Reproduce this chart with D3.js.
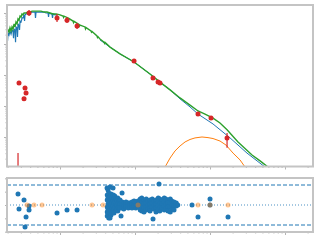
<!DOCTYPE html>
<html>
<head>
<meta charset="utf-8">
<title>SED fit</title>
<script src="https://d3js.org/d3.v7.min.js"></script>
<style>
  body { margin: 0; background: #fff; }
  .spine { fill: none; stroke: #c4c4c4; stroke-width: 2; }
  .axis path { stroke: none; }
  .axis line { stroke: #b4b4b4; }
</style>
</head>
<body>
<div id="chart"></div>
<script>
var width = 320;
var height = 240;

// all values are log10: wavelength (micron) and flux (erg/s/cm2)
// photometry with error bar ends
var photWave = [-1.413, -1.04, -0.907, -0.773, -0.013, 0.24, 0.307, 0.333, 0.84, 1.013, 1.227, -1.547, -1.467, -1.453, -1.48, -1.56];
var photFlux = [-10.00, -10.16, -10.23, -10.42, -11.55, -12.10, -12.23, -12.26, -13.26, -13.39, -14.03, -12.26, -12.42, -12.58, -12.77, -15.60];
var photLo   = [-10.10, -10.29, -10.32, -10.52, -11.55, -12.10, -12.23, -12.26, -13.26, -13.39, -14.35, -12.26, -12.42, -12.58, -12.77, -16.00];
var photHi   = [-9.90, -10.03, -10.13, -10.32, -11.55, -12.10, -12.23, -12.26, -13.26, -13.39, -13.87, -12.26, -12.42, -12.58, -12.77, -14.52];

// observed UV spectrum
var specWave = [-1.707, -1.7, -1.693, -1.68, -1.667, -1.653, -1.64, -1.627, -1.62, -1.613, -1.6, -1.593, -1.587, -1.573, -1.567, -1.56, -1.547, -1.54, -1.533, -1.52, -1.513, -1.507, -1.493, -1.48, -1.473, -1.467, -1.453, -1.427, -1.4, -1.373, -1.347, -1.333, -1.327, -1.32, -1.293, -1.267, -1.24, -1.213, -1.187, -1.16, -1.153, -1.147, -1.12, -1.107, -1.1, -1.093, -1.067, -1.04];
var specFlux = [-10.74, -10.90, -10.65, -10.71, -10.58, -10.68, -10.55, -10.58, -10.81, -10.52, -10.55, -10.94, -10.45, -10.48, -10.77, -10.35, -10.42, -10.55, -10.26, -10.29, -10.23, -10.16, -10.16, -10.06, -10.26, -10.06, -10.03, -10.00, -10.00, -9.97, -9.97, -9.97, -10.16, -9.97, -9.97, -9.97, -9.97, -9.97, -10.00, -10.00, -10.13, -10.00, -10.03, -10.03, -10.16, -10.03, -10.06, -10.06];

// total model (star + disk)
var totalWave = [-1.707, -1.693, -1.68, -1.667, -1.653, -1.64, -1.627, -1.613, -1.6, -1.587, -1.573, -1.56, -1.547, -1.533, -1.52, -1.507, -1.493, -1.48, -1.453, -1.427, -1.4, -1.373, -1.333, -1.293, -1.253, -1.213, -1.173, -1.133, -1.093, -1.053, -1.0, -0.96, -0.953, -0.947, -0.893, -0.887, -0.88, -0.827, -0.82, -0.813, -0.747, -0.74, -0.733, -0.667, -0.66, -0.653, -0.587, -0.58, -0.573, -0.507, -0.5, -0.493, -0.467, -0.413, -0.407, -0.4, -0.333, -0.2, -0.013, 0.2, 0.333, 0.467, 0.6, 0.733, 0.84, 0.933, 1.04, 1.133, 1.227, 1.373, 1.56, 1.667, 1.773, 1.933];
var totalFlux = [-10.68, -10.55, -10.61, -10.48, -10.58, -10.45, -10.52, -10.35, -10.45, -10.29, -10.35, -10.19, -10.23, -10.10, -10.13, -10.03, -10.06, -10.00, -10.00, -9.97, -9.97, -9.94, -9.94, -9.94, -9.94, -9.97, -9.97, -10.00, -10.03, -10.03, -10.06, -10.10, -10.14, -10.10, -10.16, -10.21, -10.18, -10.26, -10.31, -10.27, -10.37, -10.42, -10.39, -10.45, -10.51, -10.47, -10.58, -10.62, -10.60, -10.74, -10.79, -10.77, -10.84, -10.94, -10.98, -10.95, -11.10, -11.32, -11.58, -11.97, -12.23, -12.48, -12.74, -12.97, -13.16, -13.26, -13.39, -13.55, -13.77, -14.16, -14.58, -14.77, -14.97, -15.29];

// stellar photosphere
var starWave = [-0.467, -0.333, -0.2, -0.013, 0.2, 0.333, 0.467, 0.6, 0.733, 0.84, 1.04, 1.267, 1.493, 1.733, 1.933];
var starFlux = [-10.87, -11.10, -11.32, -11.58, -11.97, -12.23, -12.48, -12.77, -13.03, -13.26, -13.58, -14.03, -14.52, -14.97, -15.39];

// disk / dust excess
var dustWave = [0.333, 0.4, 0.467, 0.533, 0.6, 0.667, 0.733, 0.8, 0.893, 0.973, 1.04, 1.133, 1.213, 1.307, 1.4, 1.467, 1.533];
var dustFlux = [-15.29, -14.97, -14.68, -14.45, -14.29, -14.16, -14.08, -14.03, -14.00, -14.02, -14.05, -14.13, -14.26, -14.52, -14.74, -14.97, -15.23];

// residuals of photometry (sigma)
var resWave = [-1.56, -1.48, -1.547, -1.413, -1.413, -1.453, -1.467, -1.04, -0.907, -0.773, -0.373, -0.333, -0.293, -0.173, -0.333, -0.187, -0.013, 0.32, 0.24, 0.76, 1.0, 1.0, 0.84, 1.24, 0.04];
var resVal  = [1.65, 0.75, -0.6, -0.15, -0.75, -1.8, -3.3, -1.2, -0.75, -0.75, 2.55, 2.7, 2.55, 1.8, -1.95, -1.65, 0.6, 3.15, -2.1, 0, 0.9, 0, -1.8, -1.8, 0];

// residuals of the spectrum, one column per wavelength bin
var specResWave = [-0.37, -0.36, -0.35, -0.33, -0.32, -0.31, -0.29, -0.28, -0.27, -0.25, -0.24, -0.23, -0.21, -0.2, -0.17, -0.15, -0.12, -0.09, -0.07, -0.04, -0.01, 0.01, 0.04, 0.07, 0.09, 0.12, 0.15, 0.17, 0.2, 0.23, 0.25, 0.28, 0.31, 0.33, 0.36, 0.39, 0.41, 0.44, 0.47, 0.49, 0.52, 0.55, 0.57];
var specResVal = [
  [1.5, 0.75, -0.3, -1.05, -1.65], [2.25, 1.05, 0.15, -0.75, -1.35], [1.8, 0.6, -0.15, -1.95], [1.35, 0.3, -0.6, -1.2],
  [1.65, 0.9, 0, -0.9, -1.5], [1.2, 0.45, -0.45, -1.05], [1.5, 0.75, -0.15, -0.75], [1.05, 0.3, -0.6, -1.2],
  [1.35, 0.6, -0.3], [0.9, 0.15, -0.75], [0.75, 0, -0.6], [1.05, 0.3, -0.3, -0.9], [0.6, 0, -0.45], [0.75, 0.15, -0.45],
  [0.45, 0, -0.45], [0.3, -0.15, -0.6], [0.45, 0, -0.3], [0.3, -0.15, -0.45], [0.3, 0, -0.3], [0.45, 0, -0.45],
  [0.3, -0.15], [0.45, 0, -0.45], [0.6, 0.15, -0.3], [0.9, 0.3, -0.3, -0.75], [1.05, 0.45, -0.15, -0.9],
  [0.75, 0.15, -0.45, -1.05], [0.9, 0.3, -0.3, -0.75], [0.6, 0, -0.6], [0.75, 0.15, -0.45, -0.9], [0.9, 0.3, -0.3],
  [0.6, 0, -0.6], [0.75, 0.15, -0.45, -1.05], [1.05, 0.45, -0.15, -0.75], [0.9, 0.3, -0.3, -0.9], [0.75, 0.15, -0.45],
  [1.05, 0.45, -0.15, -0.75], [0.9, 0.15, -0.45], [0.75, 0.3, -0.3, -0.9], [0.9, 0.3, -0.3, -1.05], [0.6, 0, -0.6],
  [0.45, -0.15, -0.75], [0.3, -0.15], [0]
];

// points left out of the fit (drawn on the zero line)
var skipWave = [-1.44, -1.347, -1.24, -0.573, -0.427, 0.04, 0.84, 1.0, 1.24];

var xDecades = [-2, -1, 0, 1, 2];
var yDecades = [-15, -14, -13, -12, -11, -10];
var resTicks = [-4, -2, 0, 2, 4];
var resLimit = 3;

var svg = d3.select('#chart')
  .append('svg')
  .attr('width', width)
  .attr('height', height)
  .style('background-color', '#fff');

var x = d3.scaleLinear().domain([-1.707, 2.373]).range([7, 313]);
var y = d3.scaleLinear().domain([-14.952, -9.742]).range([166.5, 5]);
var yRes = d3.scaleLinear().domain([-4.05, 4.05]).range([232, 178]);

var xMinor = [];
xDecades.forEach(function(d) {
  for (var k = 2; k < 10; k++) xMinor.push(d + Math.log10(k));
});
xMinor = xMinor.filter(function(v) { return v > x.domain()[0] && v < x.domain()[1]; });
var xMajor = xDecades.filter(function(v) { return v > x.domain()[0] && v < x.domain()[1]; });
var yMinor = [];
yDecades.forEach(function(d) {
  for (var k = 2; k < 10; k++) yMinor.push(d + Math.log10(k));
});
yMinor = yMinor.filter(function(v) { return v > y.domain()[0] && v < y.domain()[1]; });
var yMajor = yDecades.filter(function(v) { return v > y.domain()[0] && v < y.domain()[1]; });

svg.append('clipPath').attr('id', 'clipTop')
  .append('rect').attr('x', 7).attr('y', 5).attr('width', 306).attr('height', 161.5);
svg.append('clipPath').attr('id', 'clipRes')
  .append('rect').attr('x', 7).attr('y', 178).attr('width', 306).attr('height', 54);

// ---- top panel ----
var sedPanel = svg.append('g').attr('clip-path', 'url(#clipTop)');

function lineOf(wave, flux) {
  return d3.line()
    .x(function(d, i) { return x(wave[i]); })
    .y(function(d, i) { return y(flux[i]); })(wave);
}

sedPanel.append('path').attr('d', lineOf(specWave, specFlux))
  .style('fill', 'none').style('stroke', '#1f77b4').style('stroke-width', 1.2);
sedPanel.append('path').attr('d', lineOf(starWave, starFlux))
  .style('fill', 'none').style('stroke', '#1f77b4').style('stroke-width', 1);
sedPanel.append('path').attr('d', lineOf(dustWave, dustFlux))
  .style('fill', 'none').style('stroke', '#ff7f0e').style('stroke-width', 1);
sedPanel.append('path').attr('d', lineOf(totalWave, totalFlux))
  .style('fill', 'none').style('stroke', '#2ca02c').style('stroke-width', 1.4);

sedPanel.selectAll('.err').data(photWave).enter().append('line')
  .attr('x1', function(d) { return x(d); })
  .attr('x2', function(d) { return x(d); })
  .attr('y1', function(d, i) { return y(photLo[i]); })
  .attr('y2', function(d, i) { return y(photHi[i]); })
  .style('stroke', '#d62728').style('stroke-width', 1.2);

sedPanel.selectAll('.phot').data(photWave).enter().append('circle')
  .attr('cx', function(d) { return x(d); })
  .attr('cy', function(d, i) { return y(photFlux[i]); })
  .attr('r', 2.5)
  .style('fill', '#d62728');

// ---- residual panel ----
var resPanel = svg.append('g').attr('clip-path', 'url(#clipRes)');

[-resLimit, resLimit].forEach(function(v) {
  resPanel.append('line')
    .attr('x1', 7).attr('x2', 313)
    .attr('y1', yRes(v)).attr('y2', yRes(v))
    .style('stroke', '#1f77b4').style('stroke-width', 1).style('stroke-dasharray', '4,2');
});
resPanel.append('line')
  .attr('x1', 7).attr('x2', 313)
  .attr('y1', yRes(0)).attr('y2', yRes(0))
  .style('stroke', '#1f77b4').style('stroke-width', 1).style('stroke-dasharray', '1,2').style('opacity', 0.8);

var specRes = [];
specResWave.forEach(function(w, i) {
  specResVal[i].forEach(function(r) { specRes.push([w, r]); });
});

resPanel.selectAll('.sres').data(specRes).enter().append('circle')
  .attr('cx', function(d) { return x(d[0]); })
  .attr('cy', function(d) { return yRes(d[1]); })
  .attr('r', 2.5)
  .style('fill', '#1f77b4');

resPanel.selectAll('.pres').data(resWave).enter().append('circle')
  .attr('cx', function(d) { return x(d); })
  .attr('cy', function(d, i) { return yRes(resVal[i]); })
  .attr('r', 2.5)
  .style('fill', '#1f77b4');

resPanel.selectAll('.skip').data(skipWave).enter().append('circle')
  .attr('cx', function(d) { return x(d); })
  .attr('cy', yRes(0))
  .attr('r', 2.5)
  .style('fill', '#ff7f0e').style('opacity', 0.45);

// ---- axes (ticks only, no labels) ----
function ticks(axis, vals, size, tx, ty) {
  svg.append('g').attr('class', 'axis')
    .attr('transform', 'translate(' + tx + ',' + ty + ')')
    .call(axis.tickValues(vals).tickSize(size).tickFormat(''));
}
ticks(d3.axisBottom(x), xMajor, 3, 0, 166.5);
ticks(d3.axisBottom(x), xMinor, 1.5, 0, 166.5);
ticks(d3.axisLeft(y), yMajor, 3, 7, 0);
ticks(d3.axisLeft(y), yMinor, 1.5, 7, 0);
ticks(d3.axisBottom(x), xMajor, 3, 0, 232);
ticks(d3.axisBottom(x), xMinor, 1.5, 0, 232);
ticks(d3.axisLeft(yRes), resTicks, 2, 7, 0);

svg.append('rect').attr('class', 'spine')
  .attr('x', 7).attr('y', 5).attr('width', 306).attr('height', 161.5);
svg.append('rect').attr('class', 'spine')
  .attr('x', 7).attr('y', 178).attr('width', 306).attr('height', 54);
</script>
</body>
</html>
